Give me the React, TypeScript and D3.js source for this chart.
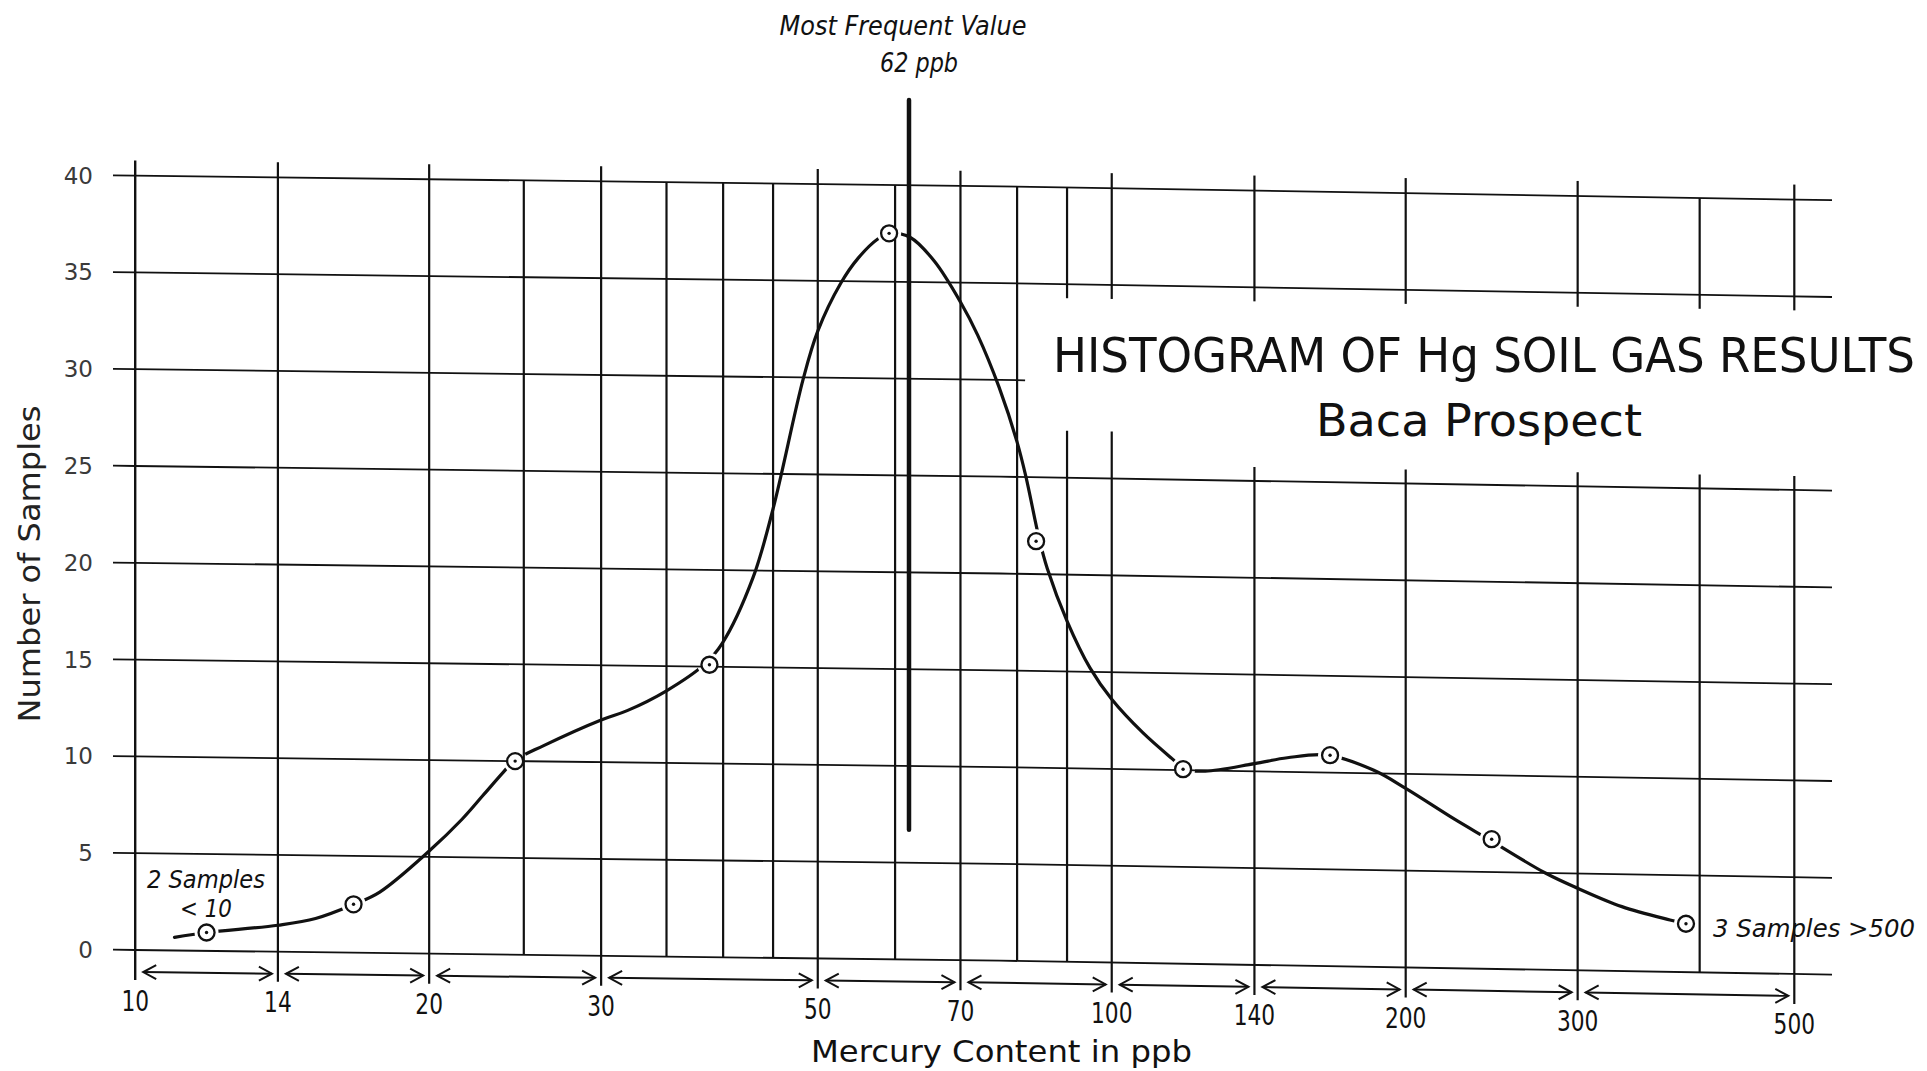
import React from "react";
import * as d3 from "d3";

// ---------- data ----------
const binEdges = [10, 14, 20, 30, 50, 70, 100, 140, 200, 300, 500];
const binCounts = [0.95, 2.5, 10.0, 15.1, 37.5, 21.7, 10.05, 10.9, 6.7, 2.5];
const xTickLabels = ["10", "14", "20", "30", "50", "70", "100", "140", "200", "300", "500"];
const gridValuesX = [10, 14, 20, 25, 30, 35, 40, 45, 50, 60, 70, 80, 90, 100, 140, 200, 300, 400, 500];
const yTicks = [0, 5, 10, 15, 20, 25, 30, 35, 40];
const modeValue = 62;
const modeLineRange = [6.7, 44.4];
// traced smooth curve (ppb, samples)
const curveX = [10.97, 11.86, 14, 15.3, 16.75, 17.8, 20, 21.6, 22.7, 23.8, 24.46, 26.2, 30, 31.9, 35, 38.3, 39.9, 42.9, 45, 48.3, 50, 52.8, 55, 57.6, 59.2, 62.2, 65.8, 70, 72.9, 76.7, 80, 81.7, 84.3, 85.9, 90, 95, 100, 107.6, 115.2, 118.9, 124.7, 140, 151.3, 166.3, 185.3, 200, 224.4, 243, 278, 300, 333, 373, 385.5];
const curveY = [0.68, 0.95, 1.37, 1.74, 2.5, 3.15, 5.3, 6.95, 8.2, 9.4, 10.03, 10.82, 12.18, 12.68, 13.73, 15.13, 16.2, 19.6, 23.2, 29.9, 32.4, 34.9, 36.2, 37.2, 37.5, 37.3, 36.1, 34.0, 32.3, 29.6, 26.8, 25.0, 21.8, 20.3, 17.6, 15.2, 13.6, 11.9, 10.6, 10.05, 9.97, 10.4, 10.73, 10.9, 10.17, 9.25, 7.7, 6.7, 5.0, 4.24, 3.33, 2.68, 2.52];

// ---------- layout ----------
const W = 1927;
const H = 1071;
const COND = '"DejaVu Sans Condensed", "Liberation Sans Narrow", "DejaVu Sans", sans-serif';
const ROUND = '"DejaVu Sans", "Liberation Sans", sans-serif';
const INK = "#111";

const xScale = d3.scaleLog().domain([10, 500]).range([135.2, 1794.3]);
const yScale = d3.scaleLinear().domain([0, 40]).range([950, 175.6]);
// the hand-drawn sheet slopes down to the right
const warp = d3.scaleLinear().domain([135.2, 1000, 1832]).range([0, 10.7, 24.6]);
const yAt = (xp: number, c: number) => yScale(c) + warp(xp);
const pt = (v: number, c: number): [number, number] => {
  const xp = xScale(v);
  return [xp, yAt(xp, c)];
};

const GRID_LEFT = 113;
const GRID_RIGHT = 1832;

function hPath(c: number, x0: number, x1: number) {
  const xs = [x0, ...[135.2, 1000].filter((d) => d > x0 && d < x1), x1];
  return d3.line()(xs.map((xp) => [xp, yAt(xp, c)] as [number, number])) as string;
}

export default function App() {
  const labeled = new Set(binEdges);
  const circleX = binCounts.map((_, i) => Math.sqrt(binEdges[i] * binEdges[i + 1]));
  const curvePts = curveX.map((v, i) => pt(v, curveY[i]));
  const curvePath = d3.line().curve(d3.curveCatmullRom.alpha(0.5))(curvePts) as string;

  const verticals: { d: string; w: number }[] = [];
  gridValuesX.forEach((v) => {
    const xp = xScale(v);
    const lab = labeled.has(v);
    const top = yAt(xp, 40) - (lab ? 15 : 0);
    const bottom = yAt(xp, 0) + (lab ? 30 : 0);
    if (v >= 90) {
      const gapTop = yAt(xp, 35) + 14;
      const gapBottom = yAt(xp, 25) - (v <= 100 ? 47 : 14);
      verticals.push({ d: `M${xp},${top}V${gapTop}`, w: 2.2 });
      verticals.push({ d: `M${xp},${gapBottom}V${bottom}`, w: 2.2 });
    } else {
      verticals.push({ d: `M${xp},${top}V${bottom}`, w: v === 10 ? 2.4 : 2.2 });
    }
  });

  const arrows = binEdges.slice(0, -1).map((e, i) => {
    const xa = xScale(e) + 8;
    const xb = xScale(binEdges[i + 1]) - 6;
    const ya = yAt(xa, 0) + 22;
    const yb = yAt(xb, 0) + 22;
    return { xa, xb, ya, yb };
  });

  const [mx, myTop] = pt(modeValue, modeLineRange[1]);
  const [, myBot] = pt(modeValue, modeLineRange[0]);

  return (
    <svg
      width={W}
      height={H}
      viewBox={`0 0 ${W} ${H}`}
      style={{ position: "absolute", left: 0, top: 0, background: "#fff" }}
    >
      <defs>
        <mask id="curveGap" maskUnits="userSpaceOnUse" x={0} y={0} width={W} height={H}>
          <rect x={0} y={0} width={W} height={H} fill="#fff" />
          {circleX.map((v, i) => {
            const [cx, cy] = pt(v, binCounts[i]);
            return <circle key={i} cx={cx} cy={cy} r={12} fill="#000" />;
          })}
        </mask>
      </defs>
      <rect x={0} y={0} width={W} height={H} fill="#fff" />

      {/* horizontal grid lines */}
      {yTicks.map((c) => (
        <path
          key={c}
          d={hPath(c, GRID_LEFT, c === 30 ? xScale(80) + 8 : GRID_RIGHT)}
          stroke={INK}
          strokeWidth={1.8}
          fill="none"
        />
      ))}

      {/* vertical grid lines */}
      {verticals.map((s, i) => (
        <path key={i} d={s.d} stroke={INK} strokeWidth={s.w} fill="none" />
      ))}

      {/* y tick labels */}
      {yTicks.map((c) => (
        <text
          key={c}
          x={93}
          y={yScale(c)}
          textAnchor="end"
          dominantBaseline="central"
          fontFamily={ROUND}
          fontSize={23}
          fill="#3a3a3a"
        >
          {c}
        </text>
      ))}

      {/* x tick labels */}
      {binEdges.map((v, i) => {
        const xp = xScale(v);
        const s = xTickLabels[i];
        return (
          <text
            key={v}
            x={xp}
            y={yAt(xp, 0) + 51}
            textAnchor="middle"
            dominantBaseline="central"
            fontFamily={COND}
            fontSize={28}
            textLength={s.length * 13.8}
            lengthAdjust="spacingAndGlyphs"
            fill={INK}
          >
            {s}
          </text>
        );
      })}

      {/* bin arrows */}
      {arrows.map((a, i) => (
        <g key={i} stroke={INK} strokeWidth={2} fill="none">
          <path d={`M${a.xa},${a.ya}L${a.xb},${a.yb}`} />
          <path d={`M${a.xa + 13},${a.ya - 7}L${a.xa},${a.ya}L${a.xa + 13},${a.ya + 7}`} />
          <path d={`M${a.xb - 13},${a.yb - 7}L${a.xb},${a.yb}L${a.xb - 13},${a.yb + 7}`} />
        </g>
      ))}

      {/* most frequent value line */}
      <path d={`M${mx},${myTop}V${myBot}`} stroke={INK} strokeWidth={4.5} strokeLinecap="round" />

      {/* smooth frequency curve */}
      <path d={curvePath} stroke={INK} strokeWidth={3.2} fill="none" mask="url(#curveGap)" strokeLinecap="round" />

      {/* bin points */}
      {circleX.map((v, i) => {
        const [cx, cy] = pt(v, binCounts[i]);
        return (
          <g key={i}>
            <circle cx={cx} cy={cy} r={8} fill="#fff" stroke={INK} strokeWidth={2.3} />
            <circle cx={cx} cy={cy} r={1.7} fill={INK} />
          </g>
        );
      })}

      {/* annotations */}
      <text x={903} y={35} textAnchor="middle" fontFamily={COND} fontStyle="italic" fontSize={26}
        textLength={247} lengthAdjust="spacingAndGlyphs" fill={INK}>Most Frequent Value</text>
      <text x={919} y={72} textAnchor="middle" fontFamily={COND} fontStyle="italic" fontSize={26}
        textLength={78} lengthAdjust="spacingAndGlyphs" fill={INK}>62 ppb</text>

      <text x={1484} y={372} textAnchor="middle" fontFamily={COND} fontSize={48}
        textLength={862} lengthAdjust="spacingAndGlyphs" fill={INK}>HISTOGRAM OF Hg SOIL GAS RESULTS</text>
      <text x={1479} y={436} textAnchor="middle" fontFamily={COND} fontSize={44}
        textLength={326} lengthAdjust="spacingAndGlyphs" fill={INK}>Baca Prospect</text>

      <text transform="translate(40,564) rotate(-90)" textAnchor="middle" fontFamily={COND} fontSize={31}
        textLength={317} lengthAdjust="spacingAndGlyphs" fill="#222">Number of Samples</text>
      <text x={1001.5} y={1062} textAnchor="middle" fontFamily={COND} fontSize={30}
        textLength={381} lengthAdjust="spacingAndGlyphs" fill={INK}>Mercury Content in ppb</text>

      <text x={206} y={888} textAnchor="middle" fontFamily={COND} fontStyle="italic" fontSize={25}
        textLength={118} lengthAdjust="spacingAndGlyphs" fill={INK}>2 Samples</text>
      <text x={206} y={917} textAnchor="middle" fontFamily={COND} fontStyle="italic" fontSize={25}
        textLength={52} lengthAdjust="spacingAndGlyphs" fill={INK}>&lt; 10</text>
      <text x={1713} y={937} textAnchor="start" fontFamily={COND} fontStyle="italic" fontSize={25}
        textLength={202} lengthAdjust="spacingAndGlyphs" fill={INK}>3 Samples &gt;500</text>
    </svg>
  );
}
